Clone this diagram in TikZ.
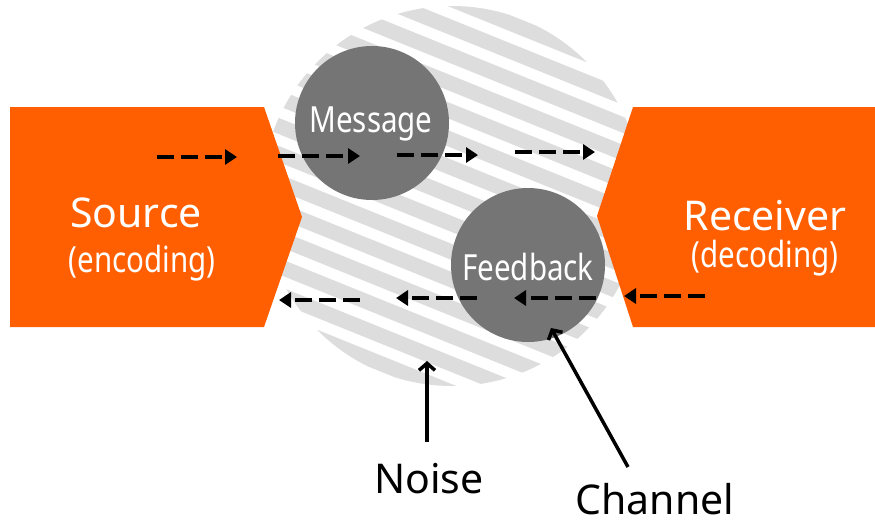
\documentclass[tikz,border=0pt]{standalone}
\usepackage{fontspec}
\setmainfont{Noto Sans}
\newfontfamily\condfont[FakeStretch=0.82]{Noto Sans}
\usetikzlibrary{arrows.meta}
\definecolor{orng}{HTML}{FF5F00}
\definecolor{dgray}{HTML}{757575}
\definecolor{lgray}{HTML}{DDDDDD}
\tikzset{
  darr/.style={line width=4.5pt, dash pattern=on 17pt off 7pt, -{Triangle[length=12pt,width=15pt]}},
  sarr/.style={line width=3.5pt, -{Straight Barb[length=7pt,width=16pt,line width=3.5pt]}},
  bigtxt/.style={anchor=base, inner sep=0pt, font=\fontsize{41}{44}\selectfont},
  wbig/.style={bigtxt, text=white},
  wsub/.style={anchor=base, inner sep=0pt, text=white, font=\condfont\fontsize{36}{40}\selectfont},
  ctxt/.style={anchor=base, inner sep=0pt, text=white, font=\condfont\fontsize{36}{40}\selectfont},
  bubble/.style={circle, fill=dgray, minimum size=154pt, inner sep=0pt},
}
\begin{document}
\begin{tikzpicture}[x=1pt,y=-1pt]
\useasboundingbox (0,0) rectangle (875,525);
% striped channel disc
\begin{scope}
  \clip (452,196) circle (190);
  \begin{scope}[shift={(452,196)},rotate=-22]
    \foreach \k in {-9,...,9} \draw[lgray, line width=15pt] (-260,\k*26) -- (260,\k*26);
  \end{scope}
\end{scope}
% bubbles
\node[bubble] (msg) at (372,123) {};
\node[bubble] (fb) at (528,265) {};
% source / receiver
\fill[orng] (10,107) -- (264,107) -- (302,217) -- (264,327) -- (10,327) -- cycle;
\fill[orng] (633,107) -- (875,107) -- (875,327) -- (633,327) -- (597,216) -- cycle;
% texts
\node[wbig] (src) at (136,227) {Source};
\node[wsub] (enc) at (142,272) {(encoding)};
\node[wbig] (rcv) at (765,230) {Receiver};
\node[wsub] (dec) at (765,267) {(decoding)};
\node[ctxt] (msgt) at (371,132) {Message};
\node[ctxt] (fbt) at (528,280) {Feedback};
\node[bigtxt] (noise) at (429,493) {Noise};
\node[bigtxt] (chan) at (655,514) {Channel};
% dashed flow arrows
\coordinate (a1s) at (157,157); \coordinate (a1e) at (237,157);
\coordinate (a2s) at (278,156); \coordinate (a2e) at (360,156);
\coordinate (a3s) at (397,155); \coordinate (a3e) at (478,155);
\coordinate (a4s) at (515,152); \coordinate (a4e) at (595,152);
\coordinate (b1s) at (360,300); \coordinate (b1e) at (279,300);
\coordinate (b2s) at (477,298); \coordinate (b2e) at (396,298);
\coordinate (b3s) at (596,298); \coordinate (b3e) at (514,298);
\coordinate (b4s) at (705,296); \coordinate (b4e) at (624,296);
\foreach \p in {a1,a2,a3,a4,b1,b2,b3,b4} \draw[darr] (\p s) -- (\p e);
% pointer arrows
\coordinate (nt) at (427,442);
\coordinate (nh) at (427,361);
\draw[sarr] (nt) -- (nh);
\coordinate (ct) at (628,467);
\coordinate (ch) at (551,328);
\draw[sarr] (ct) -- (ch);
\end{tikzpicture}
\end{document}
